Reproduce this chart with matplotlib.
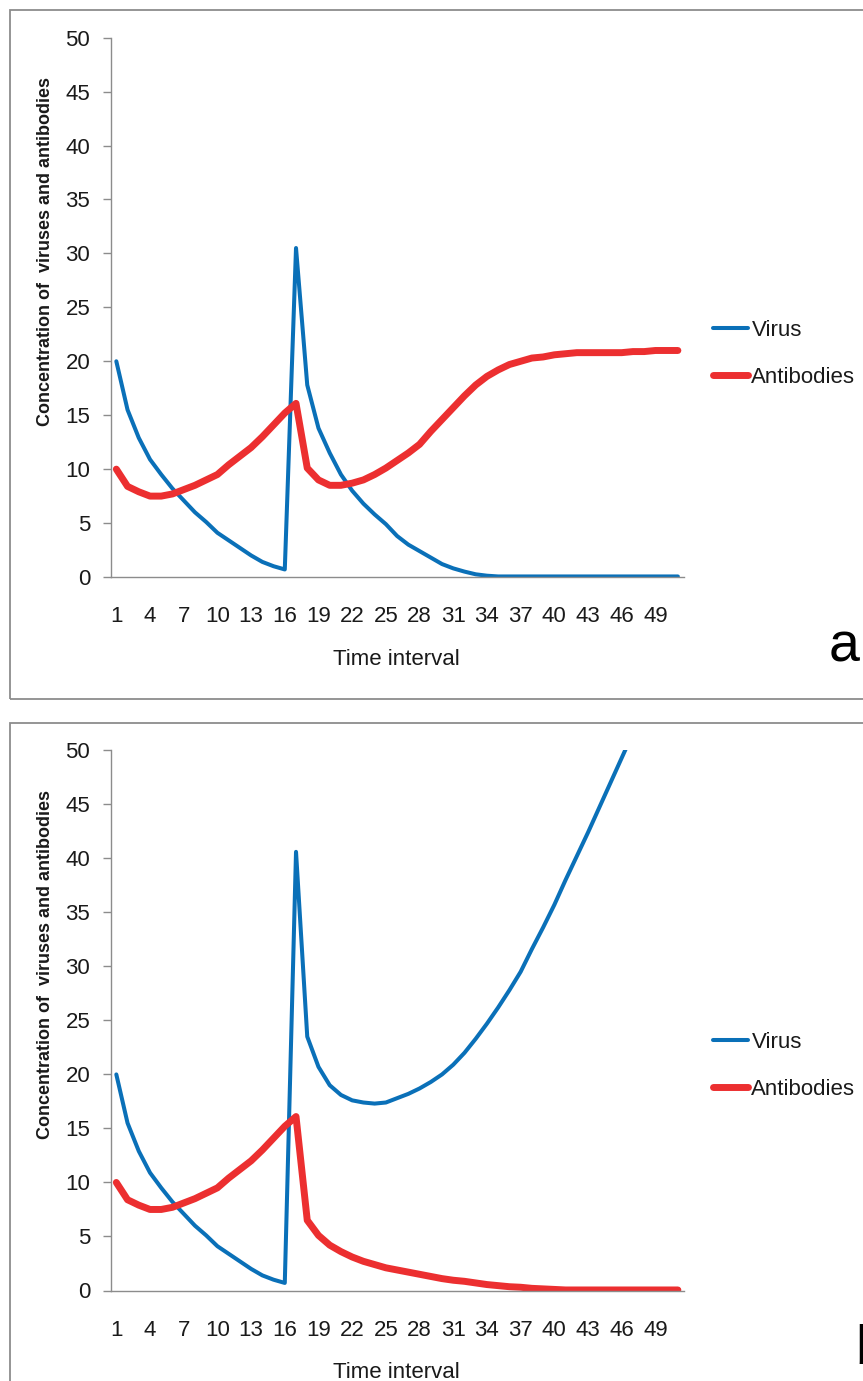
import matplotlib.pyplot as plt
from matplotlib import font_manager
from matplotlib.patches import Rectangle

names = {f.name for f in font_manager.fontManager.ttflist}
FONT = 'Liberation Sans Narrow' if 'Liberation Sans Narrow' in names else 'Liberation Sans'
NARROW = FONT == 'Liberation Sans Narrow'
plt.rcParams['font.family'] = [FONT, 'DejaVu Sans']

# data
time = list(range(1, 52))
virus_a = [20.0, 15.5, 12.9, 10.9, 9.5, 8.2, 7.1, 6.0, 5.1, 4.1,
           3.4, 2.7, 2.0, 1.4, 1.0, 0.7, 30.5, 17.8, 13.8, 11.5,
           9.5, 8.0, 6.8, 5.8, 4.9, 3.8, 3.0, 2.4, 1.8, 1.2,
           0.8, 0.5, 0.25, 0.12, 0.05, 0.05, 0.05, 0.05, 0.05, 0.05,
           0.05, 0.05, 0.05, 0.05, 0.05, 0.05, 0.05, 0.05, 0.05, 0.05, 0.05]
antibodies_a = [10.0, 8.4, 7.9, 7.5, 7.5, 7.7, 8.1, 8.5, 9.0, 9.5,
                10.4, 11.2, 12.0, 13.0, 14.1, 15.2, 16.1, 10.1, 9.0, 8.5,
                8.5, 8.7, 9.0, 9.5, 10.1, 10.8, 11.5, 12.3, 13.5, 14.6,
                15.7, 16.8, 17.8, 18.6, 19.2, 19.7, 20.0, 20.3, 20.4, 20.6,
                20.7, 20.8, 20.8, 20.8, 20.8, 20.8, 20.9, 20.9, 21.0, 21.0, 21.0]
virus_b = [20.0, 15.5, 12.9, 10.9, 9.5, 8.2, 7.1, 6.0, 5.1, 4.1,
           3.4, 2.7, 2.0, 1.4, 1.0, 0.7, 40.6, 23.5, 20.7, 19.0,
           18.1, 17.6, 17.4, 17.3, 17.4, 17.8, 18.2, 18.7, 19.3, 20.0,
           20.9, 22.0, 23.3, 24.7, 26.2, 27.8, 29.5, 31.6, 33.6, 35.7,
           38.0, 40.2, 42.4, 44.7, 47.0, 49.3, 51.6]
antibodies_b = [10.0, 8.4, 7.9, 7.5, 7.5, 7.7, 8.1, 8.5, 9.0, 9.5,
                10.4, 11.2, 12.0, 13.0, 14.1, 15.2, 16.1, 6.5, 5.1, 4.2,
                3.6, 3.1, 2.7, 2.4, 2.1, 1.9, 1.7, 1.5, 1.3, 1.1,
                0.95, 0.85, 0.7, 0.55, 0.45, 0.35, 0.3, 0.2, 0.15, 0.1,
                0.05, 0.05, 0.05, 0.05, 0.05, 0.05, 0.05, 0.05, 0.05, 0.05, 0.05]
xticks = list(range(1, 52, 3))
yticks = list(range(0, 51, 5))

W, H = 863, 1381
BLUE = '#0a70b8'
RED = '#ec2f30'
GREY = '#8c8c8c'
INK = '#1a1a1a'
FS = 18 if NARROW else 16


def fx(px):
    return px / W


def fy(py):
    return 1 - py / H


fig = plt.figure(figsize=(W / 100, H / 100), dpi=100)

panels = [
    # plot-area top/bottom, box top/bottom, legend centre (pixels), panel letter
    (37.7, 577, 10, 699, 354, 'a'),
    (750.3, 1290.5, 723, 1400, 1066, 'b'),
]
series = [(virus_a, antibodies_a), (virus_b, antibodies_b)]

for (top, bot, btop, bbot, leg_y, letter), (vir, ab) in zip(panels, series):
    fig.patches.append(Rectangle((fx(10), fy(bbot)), fx(900) - fx(10), fy(btop) - fy(bbot),
                                 transform=fig.transFigure, fill=False,
                                 edgecolor=GREY, lw=1.3))
    ax = fig.add_axes([fx(110.7), fy(bot), fx(683.5) - fx(110.7), fy(top) - fy(bot)])
    lv, = ax.plot(time[:len(vir)], vir, color=BLUE, lw=2.9, label='Virus',
                  solid_capstyle='round', solid_joinstyle='round')
    la, = ax.plot(time[:len(ab)], ab, color=RED, lw=5.0, label='Antibodies',
                  solid_capstyle='round', solid_joinstyle='round')
    ax.set_xlim(0.5, 51.5)
    ax.set_ylim(0, 50)
    ax.set_xticks(xticks)
    ax.set_yticks(yticks)
    for s in ['top', 'right']:
        ax.spines[s].set_visible(False)
    for s in ['left', 'bottom']:
        ax.spines[s].set_color(GREY)
        ax.spines[s].set_linewidth(1.0)
    ax.tick_params(axis='y', direction='out', length=5.8, width=1.0, color=GREY,
                   pad=9, labelsize=FS, labelcolor=INK)
    ax.tick_params(axis='x', length=0, pad=21, labelsize=FS, labelcolor=INK)

    fig.text(fx(396), fy(bot + 88), 'Time interval', ha='center', va='baseline',
             fontsize=FS, color=INK)
    fig.text(fx(45), fy(top + 214), 'Concentration of  viruses and antibodies',
             rotation=90, ha='center', va='center', fontsize=13,
             fontweight='bold', color=INK)

    fig.legend(handles=[lv, la], loc='center left', bbox_to_anchor=(fx(713), fy(leg_y)),
               frameon=False, fontsize=FS, handlelength=1.58, handletextpad=0.15,
               labelspacing=1.15, borderpad=0, borderaxespad=0, labelcolor=INK)

fig.text(fx(829), fy(662), 'a', fontsize=40, va='baseline', color='black')
fig.text(fx(855), fy(1363), 'b', fontsize=40, va='baseline', color='black')

fig.savefig('out.png', dpi=100)
